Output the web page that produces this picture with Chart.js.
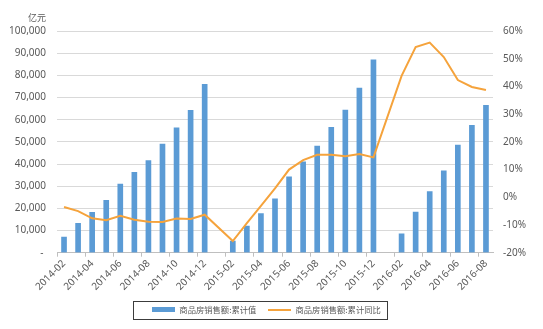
<!DOCTYPE html>
<html>
<head>
<meta charset="utf-8">
<script src="https://cdn.jsdelivr.net/npm/chart.js@4.4.0/dist/chart.umd.min.js"></script>
<style>
  html, body { margin: 0; padding: 0; background: #fff; overflow: hidden; }
  canvas { display: block; }
</style>
</head>
<body>
<canvas id="grafico" width="543" height="329"></canvas>
<script>
// months (Jan is folded into Feb, so those slots stay empty)
const meses = [
  '2014-02', '2014-03', '2014-04', '2014-05', '2014-06', '2014-07', '2014-08', '2014-09', '2014-10', '2014-11', '2014-12',
  '2015-01', '2015-02', '2015-03', '2015-04', '2015-05', '2015-06', '2015-07', '2015-08', '2015-09', '2015-10', '2015-11', '2015-12',
  '2016-01', '2016-02', '2016-03', '2016-04', '2016-05', '2016-06', '2016-07', '2016-08'
];

// 商品房销售额 累计值 (亿元)
const ventas = [
  7000, 13300, 18200, 23600, 31000, 36300, 41500, 49000, 56300, 64200, 76000,
  null, 5200, 12000, 17600, 24300, 34200, 41000, 48100, 56500, 64300, 74200, 87000,
  null, 8500, 18300, 27600, 36900, 48500, 57500, 66500
];

// 累计同比 (%)
const variacion = [
  -3.5, -5.0, -7.6, -8.3, -6.7, -8.1, -8.8, -8.9, -7.7, -7.8, -6.3,
  null, -15.8, -9.3, -3.1, 3.2, 10.0, 13.4, 15.3, 15.3, 14.8, 15.6, 14.4,
  null, 43.8, 54.2, 55.8, 50.6, 42.3, 39.8, 38.7
];

const nombres = ['商品房销售额:累计值', '商品房销售额:累计同比'];
const unidad = '亿元';

const AZUL = '#5B9BD5';
const NARANJA = '#F5A33C';
const TEXTO = '#595959';

Chart.defaults.font.family = "'Noto Sans', 'Noto Sans CJK SC', sans-serif";
Chart.defaults.font.size = 10;
Chart.defaults.color = TEXTO;

// small swatches used as legend markers
const marca = (color, w, h) => {
  const c = document.createElement('canvas');
  c.width = w;
  c.height = h;
  const g = c.getContext('2d');
  g.fillStyle = color;
  g.fillRect(0, 0, w, h);
  return c;
};
const marcas = [marca(AZUL, 23, 5), marca(NARANJA, 23, 2)];

// unit caption above the left axis + frame around the legend
const extras = {
  id: 'extras',
  afterLayout(chart) {
    // legend sits a little left of the canvas centre
    chart.legend.left -= 4;
    chart.legend.right -= 4;
  },
  afterDraw(chart) {
    const ctx = chart.ctx;
    ctx.save();
    ctx.font = "9px 'Noto Sans CJK SC', sans-serif";
    ctx.fillStyle = TEXTO;
    ctx.textAlign = 'right';
    ctx.textBaseline = 'middle';
    ctx.fillText(unidad, 46, 18);

    const cajas = chart.legend.legendHitBoxes;
    if (cajas && cajas.length) {
      const a = cajas[0];
      const b = cajas[cajas.length - 1];
      const x0 = Math.round(a.left - 19) + 0.5;
      const x1 = Math.round(b.left + b.width + 6) + 0.5;
      const y0 = Math.round(a.top - 5) + 0.5;
      const y1 = Math.round(a.top + a.height + 5) + 0.5;
      ctx.strokeStyle = '#3c3c3c';
      ctx.lineWidth = 1;
      ctx.strokeRect(x0, y0, x1 - x0, y1 - y0);
    }
    ctx.restore();
  }
};

new Chart(document.getElementById('grafico'), {
  type: 'bar',
  data: {
    labels: meses,
    datasets: [
      {
        type: 'bar',
        label: nombres[0],
        data: ventas,
        backgroundColor: AZUL,
        barThickness: 5,
        yAxisID: 'y',
        order: 1
      },
      {
        type: 'line',
        label: nombres[1],
        data: variacion,
        borderColor: NARANJA,
        backgroundColor: NARANJA,
        borderWidth: 2,
        pointRadius: 0,
        tension: 0,
        spanGaps: true,
        yAxisID: 'y1',
        order: 0
      }
    ]
  },
  options: {
    responsive: false,
    devicePixelRatio: 1,
    animation: false,
    layout: { padding: { left: 8, right: 10, top: 31, bottom: 5 } },
    plugins: {
      tooltip: { enabled: false },
      legend: {
        position: 'bottom',
        labels: {
          usePointStyle: true,
          pointStyleWidth: 23,
          padding: 12,
          color: TEXTO,
          font: { size: 8.3, family: "'Noto Sans CJK SC', sans-serif" },
          sort: (a, b) => a.datasetIndex - b.datasetIndex,
          generateLabels: (chart) => {
            const items = Chart.defaults.plugins.legend.labels.generateLabels(chart);
            items.forEach(it => { it.pointStyle = marcas[it.datasetIndex]; });
            return items;
          }
        }
      }
    },
    scales: {
      x: {
        offset: true,
        afterFit: (s) => { s.height = 41; },
        grid: {
          offset: true,
          drawOnChartArea: false,
          drawTicks: true,
          tickLength: 4,
          color: (c) => (c.index % 2 === 0 ? '#bfbfbf' : 'rgba(0,0,0,0)')
        },
        border: { color: '#bfbfbf' },
        ticks: {
          autoSkip: false,
          minRotation: 45,
          maxRotation: 45,
          padding: 1,
          callback: (v, i) => (i % 2 === 0 ? meses[i] : '')
        }
      },
      y: {
        position: 'left',
        min: 0,
        max: 100000,
        afterFit: (s) => { s.width = 49; },
        grid: { color: '#d9d9d9', drawTicks: false },
        border: { display: false },
        ticks: {
          stepSize: 10000,
          padding: 11,
          callback: (v) => (v === 0 ? '- ' : v.toLocaleString('en-US'))
        }
      },
      y1: {
        position: 'right',
        min: -20,
        max: 60,
        afterFit: (s) => { s.width = 40; },
        grid: { display: false, drawTicks: false },
        border: { display: false },
        ticks: {
          stepSize: 10,
          padding: 10,
          callback: (v) => v + '%'
        }
      }
    }
  },
  plugins: [extras]
});
</script>
</body>
</html>
